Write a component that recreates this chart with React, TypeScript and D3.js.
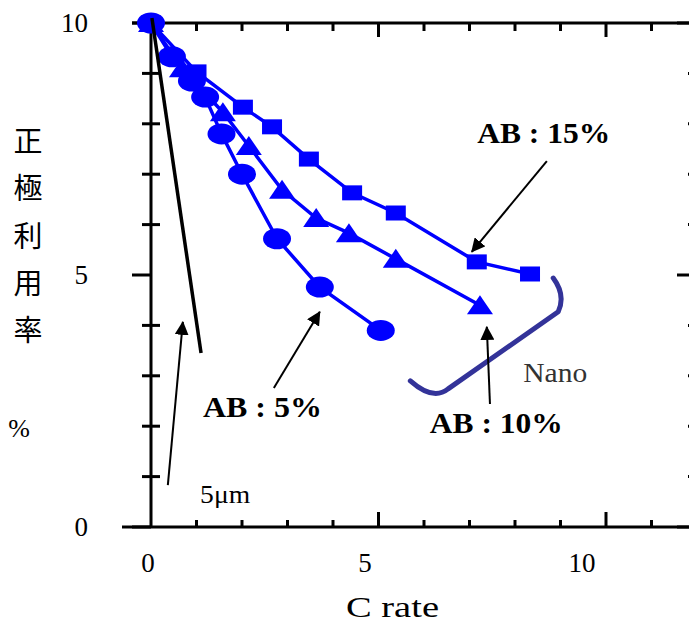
import React from 'react';
import * as d3 from 'd3';

const W = 689;
const H = 623;

// Series (C rate, utilisation)
const ab5X = [0, 0.46, 0.9, 1.19, 1.55, 2.0, 2.77, 3.71, 5.05];
const ab5Y = [10, 9.33, 8.85, 8.53, 7.8, 7.0, 5.72, 4.76, 3.9];
const ab10X = [0, 0.68, 1.58, 2.15, 2.88, 3.63, 4.35, 5.38, 7.23];
const ab10Y = [10, 9.1, 8.23, 7.56, 6.69, 6.13, 5.83, 5.32, 4.4];
const ab15X = [0, 1.0, 2.02, 2.66, 3.47, 4.42, 5.38, 7.16, 8.33];
const ab15Y = [10, 9.03, 8.33, 7.94, 7.3, 6.63, 6.23, 5.26, 5.02];
const um5X = [0.02, 1.1];
const um5Y = [10.1, 3.45];

// Axis ticks
const yMajor = [0, 5, 10];
const yMinor = [1, 2, 3, 4, 6, 7, 8, 9];
const xMajor = [5, 10];
const xMinor = [1, 2, 3, 4, 6, 7, 8, 9, 11];
const xLabels = ['0', '5', '10'];
const yLabels = ['0', '5', '10'];
const yTitle = ['正', '極', '利', '用', '率'];

// Annotations (data coordinates)
const annLabels = ['AB : 15%', 'AB : 10%', 'AB : 5%'];
const annLabelX = [8.63, 7.59, 2.45];
const annLabelY = [7.62, 1.87, 2.18];
const annLabelLen = [133, 133, 119];
const arrowFrom = [[8.7, 7.26], [7.45, 2.44], [2.7, 2.76], [0.37, 0.83]];
const arrowTo = [[7.05, 5.46], [7.38, 3.97], [3.71, 4.27], [0.7, 4.07]];
const bracketPts = [[8.84, 4.94], [9.12, 4.6], [8.95, 4.27], [6.53, 2.74], [6.2, 2.5], [5.7, 2.9]];

export default function App() {
  const x = d3.scaleLinear().domain([0, 12]).range([151, 697]);
  const y = d3.scaleLinear().domain([0, 10]).range([527, 23]);
  const xl = d3.scaleLinear().domain([0, 10]).range([148, 582]);

  const line = d3.line<[number, number]>().x(d => x(d[0])).y(d => y(d[1]));
  const zip = (a: number[], b: number[]) => a.map((v, i) => [v, b[i]] as [number, number]);
  const s5 = zip(ab5X, ab5Y);
  const s10 = zip(ab10X, ab10Y);
  const s15 = zip(ab15X, ab15Y);
  const um = zip(um5X, um5Y);

  const bp = bracketPts.map(p => [x(p[0]), y(p[1])]);
  const bracket = `M${bp[0][0]},${bp[0][1]} Q${bp[1][0]},${bp[1][1]} ${bp[2][0]},${bp[2][1]} L${bp[3][0]},${bp[3][1]} Q${bp[4][0]},${bp[4][1]} ${bp[5][0]},${bp[5][1]}`;

  const blue = '#0000ff';
  const serif = "'Liberation Serif', 'DejaVu Serif', serif";
  const serifStyle = { fontFamily: serif };
  const tw = 3;

  return (
    <svg width={W} height={H} style={{ position: 'absolute', left: 0, top: 0, background: '#fff' }}>
      <defs>
        <marker id="ah" viewBox="0 0 14 14" refX="13" refY="7" markerWidth="14" markerHeight="14" markerUnits="userSpaceOnUse" orient="auto">
          <path d="M0,0 L14,7 L0,14 Z" fill="#000" />
        </marker>
      </defs>
      <rect width={W} height={H} fill="#fff" />

      {/* Frame */}
      <g stroke="#000" strokeWidth={tw}>
        <line x1={x(0)} x2={x(0)} y1={y(10)} y2={y(0)} />
        <line x1={122} x2={x(12)} y1={y(0)} y2={y(0)} />
        <line x1={132} x2={x(12)} y1={y(10)} y2={y(10)} />
        <line x1={x(12)} x2={x(12)} y1={y(10)} y2={y(0)} />
        {yMajor.map(v => (
          <g key={'ym' + v}>
            <line x1={132} x2={x(0)} y1={y(v)} y2={y(v)} />
            <line x1={x(12) - 20} x2={x(12)} y1={y(v)} y2={y(v)} />
          </g>
        ))}
        {yMinor.map(v => (
          <g key={'yn' + v}>
            <line x1={x(0) - 9} x2={x(0) + 9} y1={y(v)} y2={y(v)} />
            <line x1={x(12) - 9} x2={x(12) + 9} y1={y(v)} y2={y(v)} />
          </g>
        ))}
        {xMajor.map(v => (
          <g key={'xm' + v}>
            <line x1={x(v)} x2={x(v)} y1={y(0)} y2={y(0) - 15} />
            <line x1={x(v)} x2={x(v)} y1={y(10)} y2={y(10) + 14} />
          </g>
        ))}
        {xMinor.map(v => (
          <g key={'xn' + v}>
            <line x1={x(v)} x2={x(v)} y1={y(0)} y2={y(0) - 7} />
            <line x1={x(v)} x2={x(v)} y1={y(10)} y2={y(10) + 8} />
          </g>
        ))}
      </g>

      {/* Tick labels */}
      <g fontSize={27} fill="#000">
        {yLabels.map(t => (
          <text key={'yl' + t} x={88} y={y(+t) + 9} textAnchor="end" style={serifStyle}>{t}</text>
        ))}
        {xLabels.map(t => (
          <text key={'xl' + t} x={xl(+t)} y={572} textAnchor="middle" style={serifStyle}>{t}</text>
        ))}
        <text x={346} y={617} fontSize={29} textLength={93} lengthAdjust="spacingAndGlyphs" style={serifStyle}>C rate</text>
      </g>

      {/* Y title */}
      <g fontSize={29} fill="#000">
        {yTitle.map((c, i) => (
          <text key={c} x={28} y={142 + i * 47.3 + 10} textAnchor="middle" style={{ fontFamily: "'Noto Sans CJK JP', sans-serif" }}>{c}</text>
        ))}
      </g>
      <text x={19} y={437} fontSize={26} textAnchor="middle" style={serifStyle}>%</text>

      {/* Series lines */}
      <g fill="none" stroke={blue} strokeWidth={3.5}>
        <path d={line(s15) || ''} />
        <path d={line(s10) || ''} />
        <path d={line(s5) || ''} />
      </g>
      {/* Markers */}
      <g fill={blue}>
        {s10.map((d, i) => {
          const cx = x(d[0]), cy = y(d[1]);
          return <path key={'t' + i} d={`M${cx},${cy - 10} L${cx + 13},${cy + 9} L${cx - 13},${cy + 9} Z`} />;
        })}
        {s15.map((d, i) => (
          <rect key={'s' + i} x={x(d[0]) - 10} y={y(d[1]) - 7.5} width={20} height={15} />
        ))}
        {s5.map((d, i) => (
          <ellipse key={'c' + i} cx={x(d[0])} cy={y(d[1])} rx={14} ry={10.5} />
        ))}
      </g>

      {/* 5um line */}
      <path d={line(um) || ''} stroke="#000" strokeWidth={3.5} fill="none" />

      {/* Nano bracket */}
      <path d={bracket} fill="none" stroke="#333399" strokeWidth={5} strokeLinecap="round" strokeLinejoin="round" />

      {/* Arrows */}
      <g stroke="#000" strokeWidth={2}>
        {arrowFrom.map((f, i) => (
          <line key={'a' + i} x1={x(f[0])} y1={y(f[1])} x2={x(arrowTo[i][0])} y2={y(arrowTo[i][1])} markerEnd="url(#ah)" />
        ))}
      </g>

      {/* Annotation labels */}
      <g fontWeight="bold" fontSize={30} fill="#000">
        {annLabels.map((t, i) => (
          <text key={t} x={x(annLabelX[i]) - annLabelLen[i] / 2} y={y(annLabelY[i])} textLength={annLabelLen[i]} lengthAdjust="spacingAndGlyphs" style={serifStyle}>{t}</text>
        ))}
      </g>
      <text x={x(8.18)} y={y(2.88)} fontSize={28} fill="#333" textLength={64} lengthAdjust="spacingAndGlyphs" style={serifStyle}>Nano</text>
      <text x={x(1.08)} y={y(0.48)} fontSize={25} fill="#000" textLength={50} lengthAdjust="spacingAndGlyphs" style={serifStyle}>5μm</text>
    </svg>
  );
}
